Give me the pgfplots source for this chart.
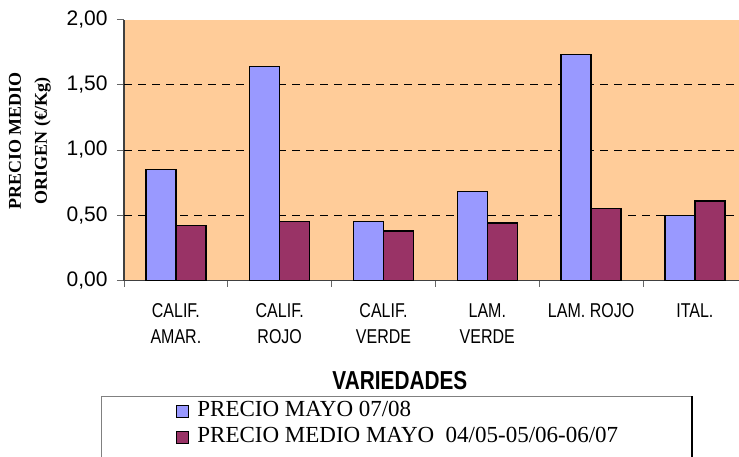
\documentclass[border=0pt]{standalone}
\usepackage{fontspec}
\usepackage{pgfplots}
\pgfplotsset{compat=1.18}
\setmainfont{Liberation Serif}
\newfontfamily\arial{Liberation Sans}
\newfontfamily\arialn[FakeStretch=0.8]{Liberation Sans}
\definecolor{barblue}{HTML}{9999FF}
\definecolor{barmaroon}{HTML}{993366}
\definecolor{plotbg}{HTML}{FFCC99}

\begin{document}
\begin{tikzpicture}
\begin{axis}[
  at={(124pt,175.5pt)}, anchor=south west,
  scale only axis, width=622.8pt, height=261pt,
  xmin=-0.5, xmax=5.5, ymin=0, ymax=2,
  ybar=0pt, bar width=30pt,
  axis background/.style={fill=plotbg},
  axis x line*=bottom, axis y line*=left,
  axis line style={-, draw=black!75, line width=1.3pt},
  tick align=outside,
  major tick length=7pt, minor tick length=6pt,
  xtick={0,...,5},
  xticklabels={{CALIF.\\AMAR.},{CALIF.\\ROJO},{CALIF.\\VERDE},{LAM.\\VERDE},{LAM. ROJO},{ITAL.}},
  major x tick style={draw=none},
  minor xtick={-0.5,0.5,...,5.5},
  minor tick style={draw=black!60, line width=1pt},
  ytick={0,0.5,...,2},
  major y tick style={draw=black!60, line width=1pt},
  extra y ticks={0.5,1,1.5},
  extra y tick labels={},
  extra y tick style={grid=major, major tick length=0pt,
    major grid style={draw=black, line width=1pt, dash pattern=on 8pt off 6pt}},
  yticklabel style={font=\arial\fontsize{21}{21}\selectfont, xshift=-6pt},
  /pgf/number format/.cd, fixed, fixed zerofill, precision=2, use comma, assume math mode=true,
  /pgfplots/.cd,
  xticklabel style={font=\arialn\fontsize{20}{25.6}\selectfont, align=center, inner sep=0pt, yshift=-16pt},
  xlabel={VARIEDADES},
  xlabel style={font=\arialn\bfseries\fontsize{26}{26}\selectfont, at={(axis description cs:0.443,-0.385)}, anchor=center, inner sep=0pt},
  ylabel={PRECIO MEDIO\\ORIGEN (€/Kg)},
  ylabel style={font=\bfseries\fontsize{18}{26}\selectfont, align=center, at={(axis description cs:-0.151,0.534)}, anchor=center, inner sep=0pt},
  legend style={at={(axis description cs:0.0835,-0.450)}, anchor=north west, draw=none, fill=none,
    inner sep=0pt, font=\fontsize{23}{23}\selectfont, cells={anchor=west},
    nodes={text height=15pt, text depth=5pt, inner ysep=3pt},
    column sep=6pt},
]
\addplot[fill=barblue, draw=black, line width=1.4pt,
  legend image code/.code={\draw[fill=barblue, draw=black, line width=1.2pt] (0pt,-6pt) rectangle (12pt,6pt);}]
  coordinates {(0,0.85) (1,1.64) (2,0.45) (3,0.68) (4,1.73) (5,0.50)};
\addplot[fill=barmaroon, draw=black, line width=1.4pt,
  legend image code/.code={\draw[fill=barmaroon, draw=black, line width=1.2pt] (0pt,-6pt) rectangle (12pt,6pt);}]
  coordinates {(0,0.42) (1,0.45) (2,0.38) (3,0.44) (4,0.55) (5,0.61)};
\legend{PRECIO MAYO 07/08, PRECIO MEDIO MAYO\ \ 04/05-05/06-06/07}
\end{axis}
\draw[black!50, line width=1pt] (101pt,-30pt) -- (101pt,60pt) -- (692pt,60pt);
\draw[black, line width=1.2pt] (692pt,60pt) -- (692pt,-30pt);
\pgfresetboundingbox
\path[use as bounding box] (0,0) rectangle (739pt,456pt);
\end{tikzpicture}
\end{document}
